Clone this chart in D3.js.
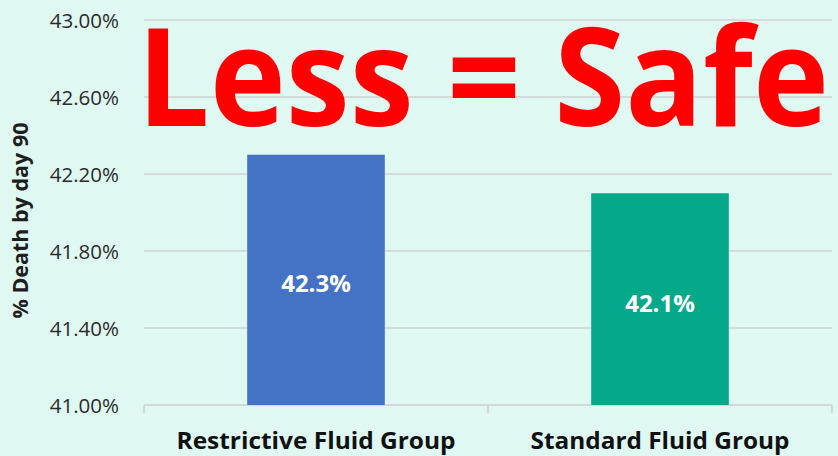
<!DOCTYPE html>
<html>
<head>
<meta charset="utf-8">
<script src="https://cdn.jsdelivr.net/npm/d3@7"></script>
<style>
  html, body { margin: 0; padding: 0; background: #dff8f2; }
  svg { display: block; }
</style>
</head>
<body>
<svg id="chart" width="838" height="456"></svg>
<script>
// 90-day mortality by fluid strategy
const categories = ["Restrictive Fluid Group", "Standard Fluid Group"];
const deathRates = [42.3, 42.1];
const valueLabels = ["42.3%", "42.1%"];
const barColors = ["#4472c4", "#05a98a"];
const yTicks = [41.0, 41.4, 41.8, 42.2, 42.6, 43.0];
const yTickLabels = ["41.00%", "41.40%", "41.80%", "42.20%", "42.60%", "43.00%"];
const yTitle = "% Death by day 90";
const headline = "Less = Safe";

const W = 838, H = 456;
const margin = { left: 144, right: 6, top: 20, bottom: 51 };
const svg = d3.select("#chart");

svg.append("rect").attr("width", W).attr("height", H).attr("fill", "#dff8f2");

const x = d3.scaleBand()
  .domain(categories)
  .range([margin.left, W - margin.right])
  .paddingInner(0.6)
  .paddingOuter(0.3);

const y = d3.scaleLinear()
  .domain([41, 43])
  .range([H - margin.bottom, margin.top]);

// horizontal gridlines
svg.append("g")
  .selectAll("line")
  .data(yTicks.slice(1))
  .join("line")
  .attr("x1", margin.left).attr("x2", W - margin.right)
  .attr("y1", d => y(d)).attr("y2", d => y(d))
  .attr("stroke", "#d2dcd9").attr("stroke-width", 2);

// y tick labels
const yAxis = d3.axisLeft(y)
  .tickValues(yTicks)
  .tickFormat((d, i) => yTickLabels[i])
  .tickSize(0)
  .tickPadding(25);
const yg = svg.append("g").attr("transform", `translate(${margin.left},0)`).call(yAxis);
yg.select(".domain").remove();
yg.selectAll("text")
  .attr("font-family", "'Open Sans', sans-serif")
  .attr("font-size", 20.5)
  .attr("fill", "#2b2b2b")
  .attr("dy", "0.35em");

// x axis baseline with category boundaries
const xAxisY = y(41);
const xg = svg.append("g");
xg.append("line")
  .attr("x1", margin.left).attr("x2", W - margin.right)
  .attr("y1", xAxisY).attr("y2", xAxisY)
  .attr("stroke", "#cfd9d6").attr("stroke-width", 2);
const boundaries = [x.range()[0], (x(categories[0]) + x.bandwidth() + x(categories[1])) / 2, x.range()[1]];
xg.selectAll("line.tick")
  .data(boundaries)
  .join("line")
  .attr("class", "tick")
  .attr("x1", d => d).attr("x2", d => d)
  .attr("y1", xAxisY).attr("y2", xAxisY + 8)
  .attr("stroke", "#cfd9d6").attr("stroke-width", 2);

// bars
svg.append("g")
  .selectAll("rect")
  .data(categories)
  .join("rect")
  .attr("x", d => x(d))
  .attr("width", x.bandwidth())
  .attr("y", (d, i) => y(deathRates[i]))
  .attr("height", (d, i) => y(41) - y(deathRates[i]))
  .attr("fill", (d, i) => barColors[i]);

// value labels inside bars
svg.append("g")
  .selectAll("text")
  .data(categories)
  .join("text")
  .attr("x", d => x(d) + x.bandwidth() / 2)
  .attr("y", (d, i) => (y(deathRates[i]) + y(41)) / 2 + 3)
  .attr("text-anchor", "middle")
  .attr("dominant-baseline", "central")
  .attr("font-family", "'Open Sans', sans-serif")
  .attr("font-weight", 700)
  .attr("font-size", 24)
  .attr("fill", "#ffffff")
  .text((d, i) => valueLabels[i]);

// category labels
const catWidths = [279, 259];
svg.append("g")
  .selectAll("text")
  .data(categories)
  .join("text")
  .attr("x", d => x(d) + x.bandwidth() / 2)
  .attr("y", 449)
  .attr("text-anchor", "middle")
  .attr("font-family", "'Open Sans', sans-serif")
  .attr("font-weight", 700)
  .attr("font-size", 24)
  .attr("fill", "#111")
  .attr("textLength", (d, i) => catWidths[i])
  .attr("lengthAdjust", "spacingAndGlyphs")
  .text(d => d);

// y axis title
svg.append("text")
  .attr("transform", `translate(28,${(y(41) + y(43)) / 2 + 8}) rotate(-90)`)
  .attr("text-anchor", "middle")
  .attr("font-family", "'Open Sans', sans-serif")
  .attr("font-weight", 700)
  .attr("font-size", 21.5)
  .attr("fill", "#1e1e1e")
  .text(yTitle);

// headline overlay
svg.append("text")
  .attr("x", 137)
  .attr("y", 126)
  .attr("font-family", "'Open Sans', sans-serif")
  .attr("font-weight", 700)
  .attr("font-size", 137)
  .attr("fill", "#ff0000")
  .attr("textLength", 692)
  .attr("lengthAdjust", "spacingAndGlyphs")
  .text(headline);
</script>
</body>
</html>
